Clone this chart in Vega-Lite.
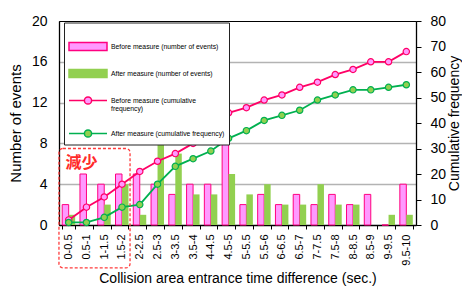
{
  "$schema": "https://vega.github.io/schema/vega-lite/v6.json",
  "width": 357,
  "height": 204,
  "autosize": {"type": "none"},
  "padding": {"left": 59, "top": 21, "right": 46, "bottom": 64},
  "background": "white",
  "config": {
    "view": {"stroke": "#000", "strokeWidth": 1},
    "font": "Liberation Sans",
    "axis": {"domainColor": "#000", "labelColor": "#000", "titleColor": "#000", "titleFontWeight": "normal", "tickColor": "#000"}
  },
  "datasets": {
    "events": [
      {"cat": "0-0.5", "series": "Before measure (number of events)", "n": 2},
      {"cat": "0.5-1", "series": "Before measure (number of events)", "n": 5},
      {"cat": "1-1.5", "series": "Before measure (number of events)", "n": 4},
      {"cat": "1.5-2", "series": "Before measure (number of events)", "n": 5},
      {"cat": "2-2.5", "series": "Before measure (number of events)", "n": 5},
      {"cat": "2.5-3", "series": "Before measure (number of events)", "n": 4},
      {"cat": "3-3.5", "series": "Before measure (number of events)", "n": 3},
      {"cat": "3.5-4", "series": "Before measure (number of events)", "n": 4},
      {"cat": "4-4.5", "series": "Before measure (number of events)", "n": 4},
      {"cat": "4.5-5", "series": "Before measure (number of events)", "n": 8},
      {"cat": "5-5.5", "series": "Before measure (number of events)", "n": 2},
      {"cat": "5.5-6", "series": "Before measure (number of events)", "n": 3},
      {"cat": "6-6.5", "series": "Before measure (number of events)", "n": 2},
      {"cat": "6.5-7", "series": "Before measure (number of events)", "n": 3},
      {"cat": "7-7.5", "series": "Before measure (number of events)", "n": 2},
      {"cat": "7.5-8", "series": "Before measure (number of events)", "n": 3},
      {"cat": "8-8.5", "series": "Before measure (number of events)", "n": 2},
      {"cat": "8.5-9", "series": "Before measure (number of events)", "n": 3},
      {"cat": "9-9.5", "series": "Before measure (number of events)", "n": 0},
      {"cat": "9.5-10", "series": "Before measure (number of events)", "n": 4},
      {"cat": "0-0.5", "series": "After measure (number of events)", "n": 1},
      {"cat": "0.5-1", "series": "After measure (number of events)", "n": 0},
      {"cat": "1-1.5", "series": "After measure (number of events)", "n": 2},
      {"cat": "1.5-2", "series": "After measure (number of events)", "n": 4},
      {"cat": "2-2.5", "series": "After measure (number of events)", "n": 1},
      {"cat": "2.5-3", "series": "After measure (number of events)", "n": 8},
      {"cat": "3-3.5", "series": "After measure (number of events)", "n": 7},
      {"cat": "3.5-4", "series": "After measure (number of events)", "n": 3},
      {"cat": "4-4.5", "series": "After measure (number of events)", "n": 3},
      {"cat": "4.5-5", "series": "After measure (number of events)", "n": 5},
      {"cat": "5-5.5", "series": "After measure (number of events)", "n": 3},
      {"cat": "5.5-6", "series": "After measure (number of events)", "n": 4},
      {"cat": "6-6.5", "series": "After measure (number of events)", "n": 2},
      {"cat": "6.5-7", "series": "After measure (number of events)", "n": 2},
      {"cat": "7-7.5", "series": "After measure (number of events)", "n": 4},
      {"cat": "7.5-8", "series": "After measure (number of events)", "n": 2},
      {"cat": "8-8.5", "series": "After measure (number of events)", "n": 2},
      {"cat": "8.5-9", "series": "After measure (number of events)", "n": 0},
      {"cat": "9-9.5", "series": "After measure (number of events)", "n": 1},
      {"cat": "9.5-10", "series": "After measure (number of events)", "n": 1}
    ],
    "cum": [
      {"cat": "0-0.5", "series": "Before measure (cumulative frequency)", "c": 2},
      {"cat": "0.5-1", "series": "Before measure (cumulative frequency)", "c": 7},
      {"cat": "1-1.5", "series": "Before measure (cumulative frequency)", "c": 11},
      {"cat": "1.5-2", "series": "Before measure (cumulative frequency)", "c": 16},
      {"cat": "2-2.5", "series": "Before measure (cumulative frequency)", "c": 21},
      {"cat": "2.5-3", "series": "Before measure (cumulative frequency)", "c": 25},
      {"cat": "3-3.5", "series": "Before measure (cumulative frequency)", "c": 28},
      {"cat": "3.5-4", "series": "Before measure (cumulative frequency)", "c": 32},
      {"cat": "4-4.5", "series": "Before measure (cumulative frequency)", "c": 36},
      {"cat": "4.5-5", "series": "Before measure (cumulative frequency)", "c": 44},
      {"cat": "5-5.5", "series": "Before measure (cumulative frequency)", "c": 46},
      {"cat": "5.5-6", "series": "Before measure (cumulative frequency)", "c": 49},
      {"cat": "6-6.5", "series": "Before measure (cumulative frequency)", "c": 51},
      {"cat": "6.5-7", "series": "Before measure (cumulative frequency)", "c": 54},
      {"cat": "7-7.5", "series": "Before measure (cumulative frequency)", "c": 56},
      {"cat": "7.5-8", "series": "Before measure (cumulative frequency)", "c": 59},
      {"cat": "8-8.5", "series": "Before measure (cumulative frequency)", "c": 61},
      {"cat": "8.5-9", "series": "Before measure (cumulative frequency)", "c": 64},
      {"cat": "9-9.5", "series": "Before measure (cumulative frequency)", "c": 64},
      {"cat": "9.5-10", "series": "Before measure (cumulative frequency)", "c": 68},
      {"cat": "0-0.5", "series": "After measure (cumulative frequency)", "c": 1},
      {"cat": "0.5-1", "series": "After measure (cumulative frequency)", "c": 1},
      {"cat": "1-1.5", "series": "After measure (cumulative frequency)", "c": 3},
      {"cat": "1.5-2", "series": "After measure (cumulative frequency)", "c": 7},
      {"cat": "2-2.5", "series": "After measure (cumulative frequency)", "c": 8},
      {"cat": "2.5-3", "series": "After measure (cumulative frequency)", "c": 16},
      {"cat": "3-3.5", "series": "After measure (cumulative frequency)", "c": 23},
      {"cat": "3.5-4", "series": "After measure (cumulative frequency)", "c": 26},
      {"cat": "4-4.5", "series": "After measure (cumulative frequency)", "c": 29},
      {"cat": "4.5-5", "series": "After measure (cumulative frequency)", "c": 34},
      {"cat": "5-5.5", "series": "After measure (cumulative frequency)", "c": 37},
      {"cat": "5.5-6", "series": "After measure (cumulative frequency)", "c": 41},
      {"cat": "6-6.5", "series": "After measure (cumulative frequency)", "c": 43},
      {"cat": "6.5-7", "series": "After measure (cumulative frequency)", "c": 45},
      {"cat": "7-7.5", "series": "After measure (cumulative frequency)", "c": 49},
      {"cat": "7.5-8", "series": "After measure (cumulative frequency)", "c": 51},
      {"cat": "8-8.5", "series": "After measure (cumulative frequency)", "c": 53},
      {"cat": "8.5-9", "series": "After measure (cumulative frequency)", "c": 53},
      {"cat": "9-9.5", "series": "After measure (cumulative frequency)", "c": 54},
      {"cat": "9.5-10", "series": "After measure (cumulative frequency)", "c": 55}
    ],
    "note": [{"label": "減少"}]
  },
  "layer": [
    {
      "data": {"name": "events"},
      "mark": {"type": "bar"},
      "encoding": {
        "x": {
          "field": "cat", "type": "nominal", "sort": null,
          "scale": {"domain": ["0-0.5","0.5-1","1-1.5","1.5-2","2-2.5","2.5-3","3-3.5","3.5-4","4-4.5","4.5-5","5-5.5","5.5-6","6-6.5","6.5-7","7-7.5","7.5-8","8-8.5","8.5-9","9-9.5","9.5-10"], "paddingInner": 0.27, "paddingOuter": 0.18},
          "axis": {"title": "Collision area entrance time difference (sec.)", "labelAngle": -90, "labelFontSize": 11, "tickSize": 4, "tickBand": "extent", "labelPadding": 5, "titleFontSize": 14, "titlePadding": 6, "domainWidth": 1.3}
        },
        "xOffset": {"field": "series", "type": "nominal", "scale": {"domain": ["Before measure (number of events)", "After measure (number of events)"], "paddingInner": 0, "paddingOuter": 0}},
        "y": {
          "field": "n", "type": "quantitative",
          "scale": {"domain": [0, 20]},
          "axis": {"title": "Number of events", "values": [0, 4, 8, 12, 16, 20], "ticks": false, "labelPadding": 12, "labelFontSize": 14, "titleFontSize": 15, "titlePadding": 8, "domainWidth": 1.3, "grid": true, "gridWidth": 1.5, "gridColor": {"condition": {"test": "datum.value === 0 || datum.value === 20", "value": "transparent"}, "value": "#b3b3b3"}}
        },
        "fill": {"field": "series", "type": "nominal", "scale": {"domain": ["Before measure (number of events)", "After measure (number of events)"], "range": ["#ff99ff", "#92d050"]}, "legend": null},
        "stroke": {"field": "series", "type": "nominal", "scale": {"domain": ["Before measure (number of events)", "After measure (number of events)"], "range": ["#ff0080", "transparent"]}, "legend": null},
        "opacity": {
          "field": "series", "type": "nominal",
          "scale": {"domain": ["Before measure (number of events)", "After measure (number of events)", "Before measure (cumulative frequency)", "After measure (cumulative frequency)"], "range": [1, 1, 1, 1]},
          "legend": {
            "title": null, "orient": "none", "legendX": 5, "legendY": 1.5,
            "padding": 4, "strokeColor": "#222", "fillColor": "#ffffff",
            "symbolSize": 1444, "symbolOffset": 0, "labelOffset": 3,
            "symbolType": {"expr": "indexof(datum.value, 'number') >= 0 ? 'M-1,-0.21H1V0.21H-1Z' : 'M-1,0H-0.19M0.19,0H1M-0.19,0A0.19,0.19,0,1,1,0.19,0A0.19,0.19,0,1,1,-0.19,0'"},
            "symbolFillColor": {"expr": "indexof(datum.value, 'After') === 0 ? '#92d050' : '#ff99ff'"},
            "symbolStrokeColor": {"expr": "datum.value === 'Before measure (number of events)' ? '#ff0080' : datum.value === 'After measure (number of events)' ? '#92d050' : datum.value === 'Before measure (cumulative frequency)' ? '#ff0066' : '#00b050'"},
            "symbolStrokeWidth": 1.5,
            "labelFont": "Liberation Sans", "labelFontSize": 6.8, "labelLimit": 250, "rowPadding": -22,
            "labelExpr": "datum.value === 'Before measure (cumulative frequency)' ? ['Before measure (cumulative', 'frequency)'] : datum.label"
          }
        }
      }
    },
    {
      "data": {"name": "cum"},
      "mark": {"type": "line", "strokeWidth": 1.8},
      "encoding": {
        "x": {"field": "cat", "type": "nominal", "sort": null},
        "y": {
          "field": "c", "type": "quantitative",
          "scale": {"domain": [0, 80]},
          "axis": {"orient": "right", "title": "Cumulative frequency", "values": [0, 10, 20, 30, 40, 50, 60, 70, 80], "tickSize": 5, "labelPadding": 9, "labelFontSize": 14, "titleFontSize": 14, "titlePadding": 2, "titleAngle": -90, "titleBaseline": "top", "domainWidth": 1.3, "grid": false}
        },
        "detail": {"field": "series", "type": "nominal"},
        "stroke": {"condition": {"test": "datum.series === 'Before measure (cumulative frequency)'", "value": "#ff0066"}, "value": "#00b050"}
      }
    },
    {
      "data": {"name": "cum"},
      "mark": {"type": "point", "shape": "circle", "filled": true, "size": 40, "strokeWidth": 1.2, "opacity": 1},
      "encoding": {
        "x": {"field": "cat", "type": "nominal", "sort": null},
        "y": {"field": "c", "type": "quantitative", "scale": {"domain": [0, 80]}, "axis": null},
        "fill": {"condition": {"test": "datum.series === 'Before measure (cumulative frequency)'", "value": "#ff99ff"}, "value": "#92d050"},
        "stroke": {"condition": {"test": "datum.series === 'Before measure (cumulative frequency)'", "value": "#ff0066"}, "value": "#00b050"}
      }
    },
    {
      "data": {"name": "note"},
      "mark": {"type": "rect", "fill": "transparent", "stroke": "#ff3b3b", "strokeWidth": 1.3, "strokeDash": [3, 2], "cornerRadius": 4},
      "encoding": {
        "x": {"datum": "0-0.5", "type": "nominal", "bandPosition": -0.25},
        "x2": {"datum": "1.5-2", "bandPosition": 1.12},
        "y": {"datum": 7.5, "type": "quantitative", "scale": {"domain": [0, 20]}, "axis": null},
        "y2": {"datum": -4.2}
      }
    },
    {
      "data": {"name": "note"},
      "mark": {"type": "text", "color": "#ff2a2a", "font": "Noto Sans CJK JP", "fontWeight": "bold", "fontSize": 16, "align": "center", "baseline": "middle"},
      "encoding": {
        "x": {"datum": "0.5-1", "type": "nominal", "bandPosition": 0.12},
        "y": {"datum": 6.1, "type": "quantitative", "scale": {"domain": [0, 20]}, "axis": null},
        "text": {"field": "label"}
      }
    }
  ],
  "resolve": {"scale": {"y": "independent"}}
}
